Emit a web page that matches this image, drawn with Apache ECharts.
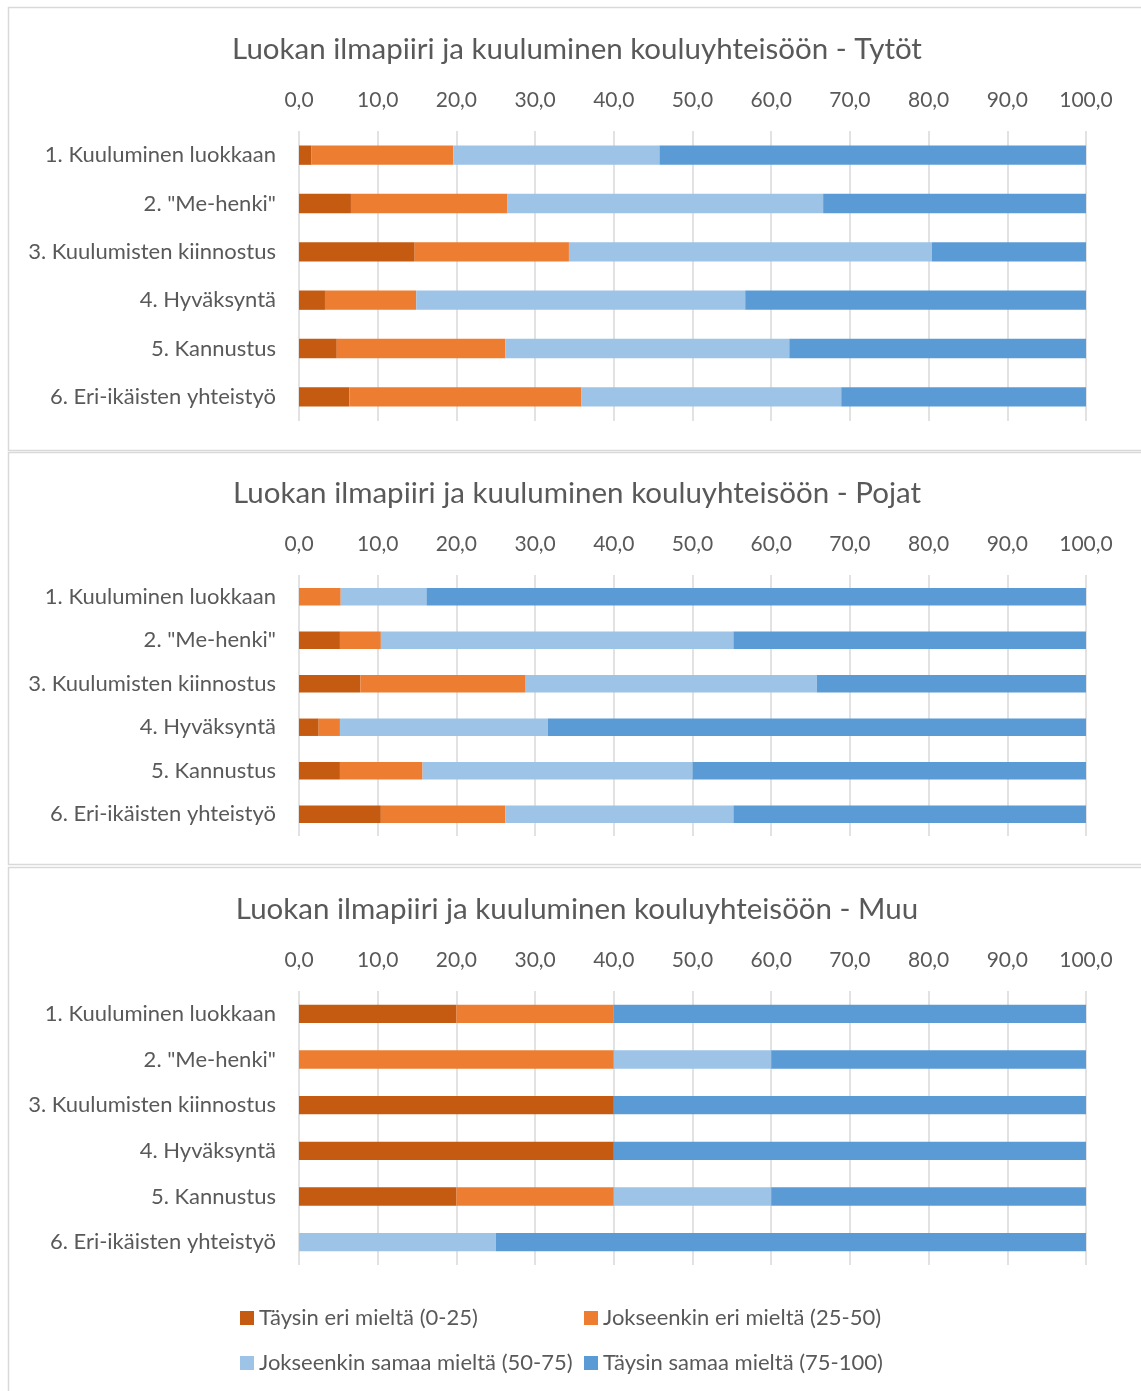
<!DOCTYPE html>
<html>
<head>
<meta charset="utf-8">
<script src="https://cdn.jsdelivr.net/npm/echarts@6/dist/echarts.min.js"></script>
<style>
html,body{margin:0;padding:0;background:#fff;}
#c{width:1141px;height:1391px;}
</style>
</head>
<body>
<div id="c"></div>
<script>
const categories = ['1. Kuuluminen luokkaan','2. "Me-henki"','3. Kuulumisten kiinnostus','4. Hyväksyntä','5. Kannustus','6. Eri-ikäisten yhteistyö'];
const seriesNames = ['Täysin eri mieltä (0-25)','Jokseenkin eri mieltä (25-50)','Jokseenkin samaa mieltä (50-75)','Täysin samaa mieltä (75-100)'];
const titles = ['Luokan ilmapiiri ja kuuluminen kouluyhteisöön - Tytöt','Luokan ilmapiiri ja kuuluminen kouluyhteisöön - Pojat','Luokan ilmapiiri ja kuuluminen kouluyhteisöön - Muu'];
const tickLabels = ['0,0','10,0','20,0','30,0','40,0','50,0','60,0','70,0','80,0','90,0','100,0'];

// Tytöt
const tytotTaysinEri   = [1.6, 6.6, 14.7, 3.3, 4.8, 6.4];
const tytotJokseenEri  = [18.0, 19.9, 19.6, 11.6, 21.4, 29.5];
const tytotJokseenSama = [26.2, 40.1, 46.1, 41.8, 36.1, 33.0];
const tytotTaysinSama  = [54.2, 33.4, 19.6, 43.3, 37.7, 31.1];
// Pojat
const pojatTaysinEri   = [0, 5.2, 7.8, 2.5, 5.2, 10.4];
const pojatJokseenEri  = [5.3, 5.2, 21.0, 2.7, 10.5, 15.8];
const pojatJokseenSama = [10.9, 44.8, 37.0, 26.4, 34.3, 29.0];
const pojatTaysinSama  = [83.8, 44.8, 34.2, 68.4, 50.0, 44.8];
// Muu
const muuTaysinEri   = [20, 0, 40, 40, 20, 0];
const muuJokseenEri  = [20, 40, 0, 0, 20, 0];
const muuJokseenSama = [0, 20, 0, 0, 20, 25];
const muuTaysinSama  = [60, 40, 60, 60, 40, 75];

const colors = ['#C55A11','#ED7D31','#9DC3E6','#5B9BD5'];
const FONT = 'Lato';
const TXT = '#595959';

const panels = [
  {data:[tytotTaysinEri,tytotJokseenEri,tytotJokseenSama,tytotTaysinSama], gridTop:131, gridH:290, titleY:48},
  {data:[pojatTaysinEri,pojatJokseenEri,pojatJokseenSama,pojatTaysinSama], gridTop:575, gridH:261, titleY:492},
  {data:[muuTaysinEri,muuJokseenEri,muuJokseenSama,muuTaysinSama], gridTop:991, gridH:274, titleY:908}
];

const option = {
  animation:false,
  backgroundColor:'#fff',
  color:colors,
  textStyle:{fontFamily:FONT},
  graphic:[
    {type:'rect', shape:{x:8.5,y:7.5,width:1200,height:443}, style:{fill:'none',stroke:'#d9d9d9',lineWidth:1.5}, z:-1},
    {type:'rect', shape:{x:8.5,y:452.5,width:1200,height:412}, style:{fill:'none',stroke:'#d9d9d9',lineWidth:1.5}, z:-1},
    {type:'rect', shape:{x:8.5,y:867.5,width:1200,height:600}, style:{fill:'none',stroke:'#d9d9d9',lineWidth:1.5}, z:-1}
  ],
  title: panels.map((p,i)=>({
    text:titles[i], left:572, top:p.titleY-19, textAlign:'center',
    textStyle:{fontFamily:FONT,fontSize:29.5,fontWeight:'normal',color:TXT}
  })),
  legend: seriesNames.map((n,i)=>({
    data:[n], left: (i%2===0)?235:579, top: i<2?1302:1347,
    itemWidth:14, itemHeight:14, icon:'rect', selectedMode:false,
    textStyle:{fontFamily:FONT,fontSize:22,color:TXT}
  })),
  grid: panels.map(p=>({left:299, width:787, top:p.gridTop, height:p.gridH})),
  xAxis: panels.map((p,i)=>({
    gridIndex:i, type:'value', position:'top', min:0, max:100, interval:10,
    axisLine:{show:false}, axisTick:{show:false},
    splitLine:{show:true, lineStyle:{color:'#d9d9d9', width:1.5}},
    axisLabel:{fontFamily:FONT, fontSize:21, color:TXT, margin:20, formatter:(v)=>tickLabels[Math.round(v/10)]}
  })),
  yAxis: panels.map((p,i)=>({
    gridIndex:i, type:'category', data:categories, inverse:true,
    axisLine:{show:false}, axisTick:{show:false},
    axisLabel:{fontFamily:FONT, fontSize:22, color:TXT, margin:23}
  })),
  series: []
};
panels.forEach((p,pi)=>{
  p.data.forEach((arr,si)=>{
    option.series.push({
      type:'bar', name:seriesNames[si], stack:'s'+pi, xAxisIndex:pi, yAxisIndex:pi,
      data:arr, barWidth:'40%', itemStyle:{color:colors[si]}
    });
  });
});
const chart = echarts.init(document.getElementById('c'), null, {renderer:'canvas'});
chart.setOption(option);
</script>
</body>
</html>
